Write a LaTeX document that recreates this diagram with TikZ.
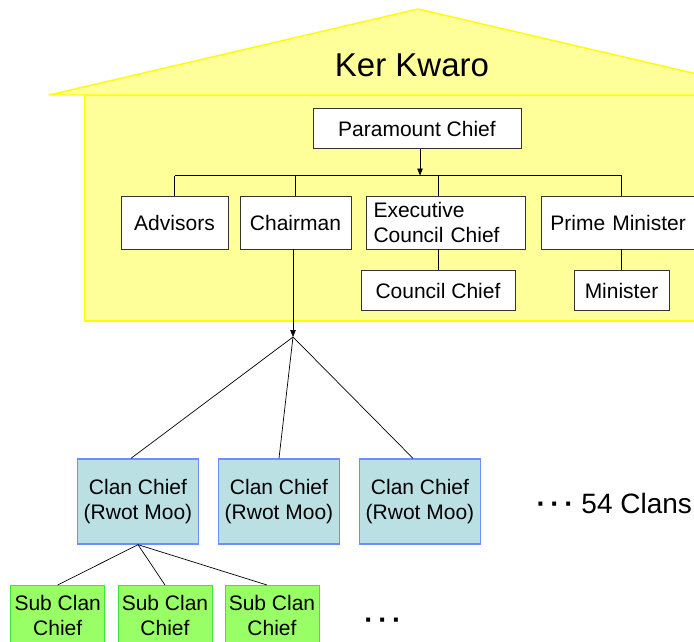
\documentclass[tikz,border=0pt]{standalone}
\usepackage{fontspec}
\setmainfont{Liberation Sans}
\usetikzlibrary{arrows.meta,calc}

\definecolor{houseFill}{HTML}{FFFF99}
\definecolor{houseLine}{HTML}{FFFF00}
\definecolor{clanFill}{HTML}{BBE0E3}
\definecolor{clanLine}{HTML}{6E8EFF}
\definecolor{subFill}{HTML}{99FF66}
\definecolor{subLine}{HTML}{3CE63C}

% three square dots for an open-ended list
\newcommand{\moredots}{\textbf{·\kern4.6pt·\kern4.6pt·}}

\tikzset{
  boxtext/.style={font=\fontsize{21}{24.5}\selectfont},
  orgbox/.style={boxtext, draw=black!80, fill=white, line width=0.9pt,
    inner sep=0pt, minimum height=40pt},
  clanbox/.style={boxtext, draw=clanLine, fill=clanFill, line width=1.3pt,
    inner sep=0pt, align=center, minimum width=121pt, minimum height=85pt},
  subbox/.style={boxtext, draw=subLine, fill=subFill, line width=1pt,
    inner sep=0pt, align=center, minimum width=94pt, minimum height=60pt},
  link/.style={draw=black, line width=0.7pt},
  arrowlink/.style={link, -{Triangle[length=7pt,width=5.5pt]}},
}

\begin{document}
\begin{tikzpicture}[x=1pt,y=-1pt]
\useasboundingbox (0,0) rectangle (694,641);
\clip (0,0) rectangle (694,641);

% the house: wall and roof
\fill[houseFill, draw=houseLine, line width=1.4pt] (84.5,95) rectangle (730,321);
\fill[houseFill, draw=houseLine, line width=1.4pt, line join=round]
  (49,95) -- (418,9) -- (730,81.7) -- (730,95) -- cycle;
\node[font=\fontsize{33}{38}\selectfont, anchor=base] (title) at (412,76) {Ker Kwaro};

% council inside the house
\node[orgbox, minimum width=208pt] (pc) at (417,128.5) {Paramount Chief};
\node[orgbox, minimum width=107pt, minimum height=53pt] (adv) at (174.5,222.5) {Advisors};
\node[orgbox, minimum width=111pt, minimum height=53pt] (chair) at (295.5,222.5) {Chairman};
\node[orgbox, text width=144pt, align=left, inner xsep=7.5pt,
      minimum height=53pt] (exec) at (445.5,222.5) {Executive\\Council Chief};
\node[orgbox, text width=170pt, align=left, inner xsep=9pt,
      minimum height=53pt, anchor=west] (pm) at (541,222.5) {Prime Minister};
\node[orgbox, minimum width=154pt] (cc) at (438,290.7) {Council Chief};
\node[orgbox, minimum width=95pt] (min) at (621.5,290.5) {Minister};

\coordinate (bus) at (420,175.5);
\draw[arrowlink] (pc.south -| bus) -- (bus);
\draw[link] (adv.north |- bus) -- (min.north |- bus);
\draw[link] (adv.north |- bus) -- (adv.north);
\draw[link] (chair.north |- bus) -- (chair.north);
\draw[link] (cc.north |- bus) -- (cc.north |- exec.north);
\draw[link] (min.north |- bus) -- (min.north |- pm.north);
\draw[link] (exec.south -| cc.north) -- (cc.north);
\draw[link] (pm.south -| min.north) -- (min.north);

% clans
\node[clanbox] (c1) at (138,501.5) {Clan Chief\\(Rwot Moo)};
\node[clanbox] (c2) at (279,501.5) {Clan Chief\\(Rwot Moo)};
\node[clanbox] (c3) at (420,501.5) {Clan Chief\\(Rwot Moo)};

\coordinate (fan) at (293,337);
\draw[arrowlink] (chair.south -| fan) -- (fan);
\draw[link] (fan) -- ($(c1.north)+(-7,0)$);
\draw[link] (fan) -- (c2.north);
\draw[link] (fan) -- ($(c3.north)+(-7,0)$);

\node[font=\fontsize{28}{32}\selectfont, anchor=base west] (more) at (533,513)
  {\moredots\ 54 Clans};

% sub clans
\node[subbox] (s1) at (57.7,615.5) {Sub Clan\\Chief};
\node[subbox] (s2) at (165,615.5) {Sub Clan\\Chief};
\node[subbox] (s3) at (272,615.5) {Sub Clan\\Chief};

\draw[link] (c1.south) -- (s1.north);
\draw[link] (c1.south) -- (s2.north);
\draw[link] (c1.south) -- ($(s3.north)+(-5,0)$);

\node[font=\fontsize{28}{32}\selectfont, anchor=base] (subdots) at (383,629) {\moredots};
\end{tikzpicture}
\end{document}
